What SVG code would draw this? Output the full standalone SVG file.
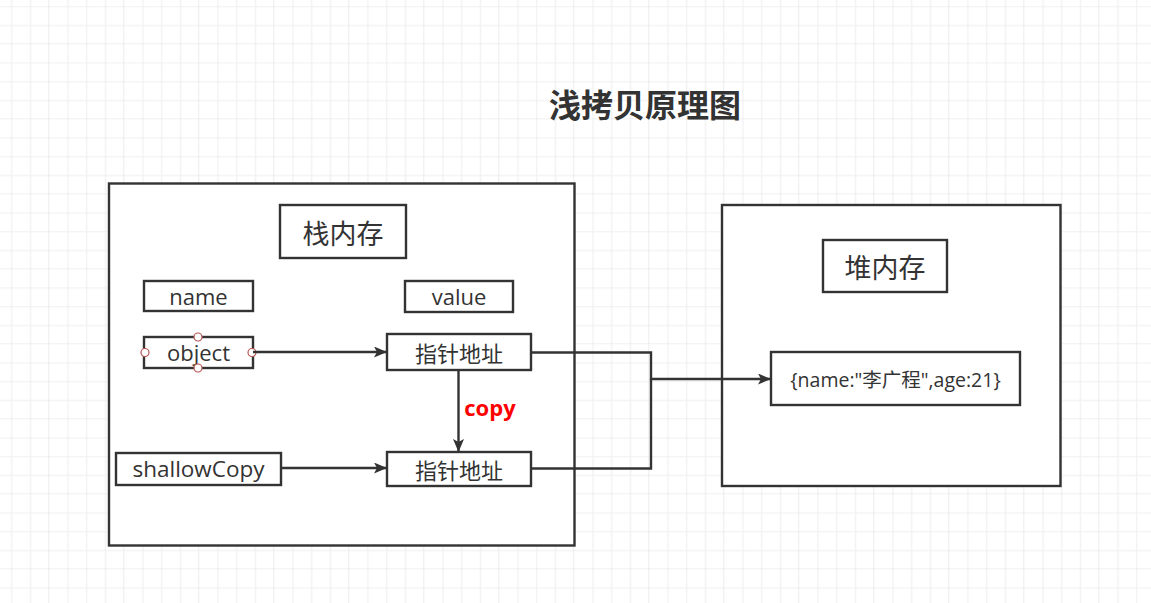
<svg xmlns="http://www.w3.org/2000/svg" width="1151" height="603" viewBox="0 0 1151 603">
  <defs>
    <pattern id="grid" x="-25.7" y="-30.7" width="75" height="75" patternUnits="userSpaceOnUse">
      <path d="M18.75 0V75M37.5 0V75M56.25 0V75M0 18.75H75M0 37.5H75M0 56.25H75" stroke="#f0f0f0" stroke-width="1.2" fill="none"/>
      <path d="M75 0V75M0 75H75" stroke="#e2e2e2" stroke-width="1.2" fill="none"/>
    </pattern>
    <marker id="arrow" viewBox="0 0 13 11" refX="13" refY="5.5" markerWidth="13" markerHeight="11" markerUnits="userSpaceOnUse" orient="auto">
      <path d="M0 0L13 5.5L0 11L3 5.5Z" fill="#333"/>
    </marker>
  </defs>
  <style>
    .box { fill: #fff; stroke: #333; stroke-width: 2.4; }
    .cont { fill: #fff; stroke: #333; stroke-width: 2.4; }
    .t { font-family: "Open Sans", "Noto Sans CJK SC", sans-serif; fill: #333; text-anchor: middle; dominant-baseline: central; }
    .c { font-family: "Noto Sans CJK SC", sans-serif; fill: #333; text-anchor: middle; dominant-baseline: central; }
    .conn { fill: none; stroke: #333; stroke-width: 2.4; }
    .pt { fill: #fff; stroke: #b85450; stroke-width: 1.2; }
  </style>
  <rect width="1151" height="603" fill="#fff"/>
  <rect width="1151" height="603" fill="url(#grid)"/>

  <g id="title">
    <text class="c" x="645" y="103" font-size="32" font-weight="bold">浅拷贝原理图</text>
  </g>

  <g id="stack">
    <rect class="cont" x="109" y="183.5" width="465.5" height="362"/>
  </g>
  <g id="heap">
    <rect class="cont" x="722" y="205" width="338.5" height="281"/>
  </g>

  <g id="stack-label">
    <rect class="box" x="280" y="205" width="126" height="53"/>
    <text class="c" x="343" y="232" font-size="27">栈内存</text>
  </g>
  <g id="heap-label">
    <rect class="box" x="823" y="240" width="124" height="52"/>
    <text class="c" x="885" y="266" font-size="27">堆内存</text>
  </g>

  <g id="name">
    <rect class="box" x="144" y="281" width="109" height="30"/>
    <text class="t" x="198.5" y="296" font-size="22">name</text>
  </g>
  <g id="value">
    <rect class="box" x="405" y="281" width="108" height="31"/>
    <text class="t" x="459" y="296" font-size="22">value</text>
  </g>
  <g id="object">
    <rect class="box" x="144" y="337" width="109" height="31"/>
    <text class="t" x="198.5" y="352" font-size="22">object</text>
    <circle class="pt" cx="198" cy="337" r="4"/>
    <circle class="pt" cx="198" cy="368" r="4"/>
    <circle class="pt" cx="145" cy="352.5" r="4"/>
    <circle class="pt" cx="252" cy="352.5" r="4"/>
  </g>
  <g id="pointer1">
    <rect class="box" x="387" y="334" width="144" height="36"/>
    <text class="c" x="459" y="352" font-size="22">指针地址</text>
  </g>
  <g id="shallowCopy">
    <rect class="box" x="116" y="453" width="165" height="32"/>
    <text class="t" x="198.5" y="468.5" font-size="22.5">shallowCopy</text>
  </g>
  <g id="pointer2">
    <rect class="box" x="387" y="452" width="144" height="34"/>
    <text class="c" x="459" y="469" font-size="22">指针地址</text>
  </g>
  <g id="obj-value">
    <rect class="box" x="771" y="352" width="249" height="53"/>
    <text class="t" x="895.5" y="379" font-size="19.5">{name:"李广程",age:21}</text>
  </g>

  <g id="connectors">
    <line class="conn" x1="253" y1="352" x2="387" y2="352" marker-end="url(#arrow)"/>
    <line class="conn" x1="281" y1="468" x2="387" y2="468" marker-end="url(#arrow)"/>
    <line class="conn" x1="458.5" y1="370" x2="458.5" y2="452" marker-end="url(#arrow)"/>
    <polyline class="conn" points="531,352.5 651,352.5 651,379 771,379" marker-end="url(#arrow)"/>
    <polyline class="conn" points="531,468.5 651,468.5 651,379"/>
    <text x="490" y="407" font-family="Open Sans, Liberation Sans, sans-serif" font-size="22" font-weight="bold" fill="#ff0000" text-anchor="middle" dominant-baseline="central">copy</text>
  </g>
</svg>
